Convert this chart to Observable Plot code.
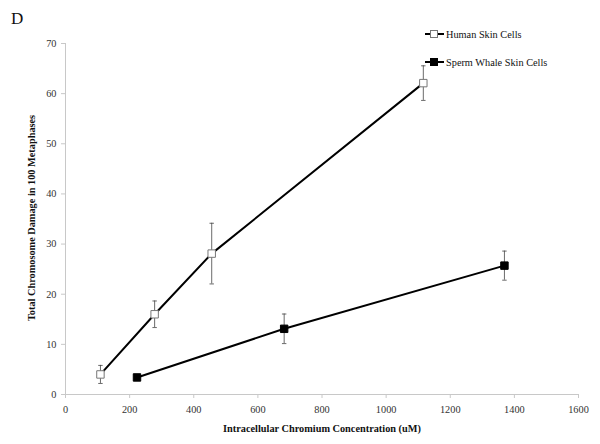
<!DOCTYPE html>
<html><head><meta charset="utf-8">
<script src="https://cdn.jsdelivr.net/npm/d3@7"></script>
<script src="https://cdn.jsdelivr.net/npm/@observablehq/plot@0.6"></script>
<style>
html,body{margin:0;padding:0;background:#fff;}
#chart{position:relative;width:600px;height:444px;}
#chart svg, #chart svg text{font-family:"Liberation Serif","Times New Roman",serif !important;}
</style></head>
<body><div id="chart"></div>
<script>
const seriesNames = ["Human Skin Cells", "Sperm Whale Skin Cells"];
const humanX = [109, 278, 456, 1116];
const humanY = [4.0, 16.0, 28.1, 62.1];
const humanErr = [1.8, 2.65, 6.05, 3.45];
const whaleX = [223, 682, 1369];
const whaleY = [3.4, 13.1, 25.7];
const whaleErr = [0.3, 2.95, 2.9];
const xTicks = [0, 200, 400, 600, 800, 1000, 1200, 1400, 1600];
const yTicks = [0, 10, 20, 30, 40, 50, 60, 70];

const human = humanX.map((x, i) => ({x, y: humanY[i], e: humanErr[i], s: seriesNames[0]}));
const whale = whaleX.map((x, i) => ({x, y: whaleY[i], e: whaleErr[i], s: seriesNames[1]}));
const all = human.concat(whale);

const FONT = "Liberation Serif";
const FS = 10.3;
const capSymbol = {draw(ctx, size) { const r = Math.sqrt(size) / 2; ctx.moveTo(-r, 0); ctx.lineTo(r, 0); }};

const plot = Plot.plot({
  width: 600, height: 444,
  marginLeft: 65, marginRight: 22, marginTop: 43, marginBottom: 50,
  style: {fontFamily: "'Liberation Serif', serif", fontSize: FS + "px", color: "#333"},
  x: {domain: [0, 1600], ticks: xTicks},
  y: {domain: [0, 70], ticks: yTicks},
  marks: [
    Plot.ruleY([0], {stroke: "#c8c8c8"}),
    Plot.ruleX([0], {stroke: "#c8c8c8"}),
    Plot.axisX({ticks: xTicks, tickFormat: d => String(d), tickSize: 4, tickPadding: 7, stroke: "#c8c8c8", fill: "#333",
      fontFamily: FONT, fontSize: FS, label: null}),
    Plot.axisY({ticks: yTicks, tickFormat: d => String(d), tickSize: 4, tickPadding: 5, stroke: "#c8c8c8", fill: "#333",
      fontFamily: FONT, fontSize: FS, label: null}),
    Plot.ruleX(all, {x: "x", y1: d => d.y - d.e, y2: d => d.y + d.e, stroke: "#444", strokeWidth: 0.8}),
    Plot.dot(all, {x: "x", y: d => d.y - d.e, symbol: capSymbol, r: 2.5, stroke: "#444", strokeWidth: 0.8}),
    Plot.dot(all, {x: "x", y: d => d.y + d.e, symbol: capSymbol, r: 2.5, stroke: "#444", strokeWidth: 0.8}),
    Plot.line(human, {x: "x", y: "y", stroke: "#000", strokeWidth: 2}),
    Plot.line(whale, {x: "x", y: "y", stroke: "#000", strokeWidth: 2}),
    Plot.dot(human, {x: "x", y: "y", symbol: "square", r: 4.2, fill: "#fff", stroke: "#777", strokeWidth: 1}),
    Plot.dot(whale, {x: "x", y: "y", symbol: "square", r: 4.2, fill: "#000", stroke: "#000", strokeWidth: 1})
  ]
});

const svg = d3.select(plot);

svg.append("text").attr("x", 11).attr("y", 24).attr("text-anchor", "start").attr("font-family", FONT).attr("font-size", 17).attr("fill", "#111").text("D");
svg.append("text")
  .attr("transform", "translate(35,218) rotate(-90)")
  .attr("text-anchor", "middle").attr("font-family", FONT).attr("font-weight", "bold").attr("font-size", FS).attr("fill", "#111")
  .text("Total Chromosome Damage in 100 Metaphases");
svg.append("text")
  .attr("x", 322).attr("y", 432)
  .attr("text-anchor", "middle").attr("font-family", FONT).attr("font-weight", "bold").attr("font-size", FS).attr("fill", "#111")
  .text("Intracellular Chromium Concentration (uM)");

const legend = [{name: seriesNames[0], fill: "#fff", stroke: "#777", y: 34}, {name: seriesNames[1], fill: "#000", stroke: "#000", y: 62}];
legend.forEach(l => {
  const g = svg.append("g");
  g.append("line").attr("x1", 425).attr("x2", 444).attr("y1", l.y).attr("y2", l.y).attr("stroke", "#000").attr("stroke-width", 2);
  g.append("rect").attr("x", 430.5).attr("y", l.y - 3.5).attr("width", 7).attr("height", 7).attr("fill", l.fill).attr("stroke", l.stroke);
  g.append("text").attr("x", 446).attr("y", l.y + 3.5).attr("text-anchor", "start").attr("font-family", FONT).attr("font-size", FS).attr("fill", "#111").text(l.name);
});

document.getElementById("chart").appendChild(plot);
</script></body></html>
